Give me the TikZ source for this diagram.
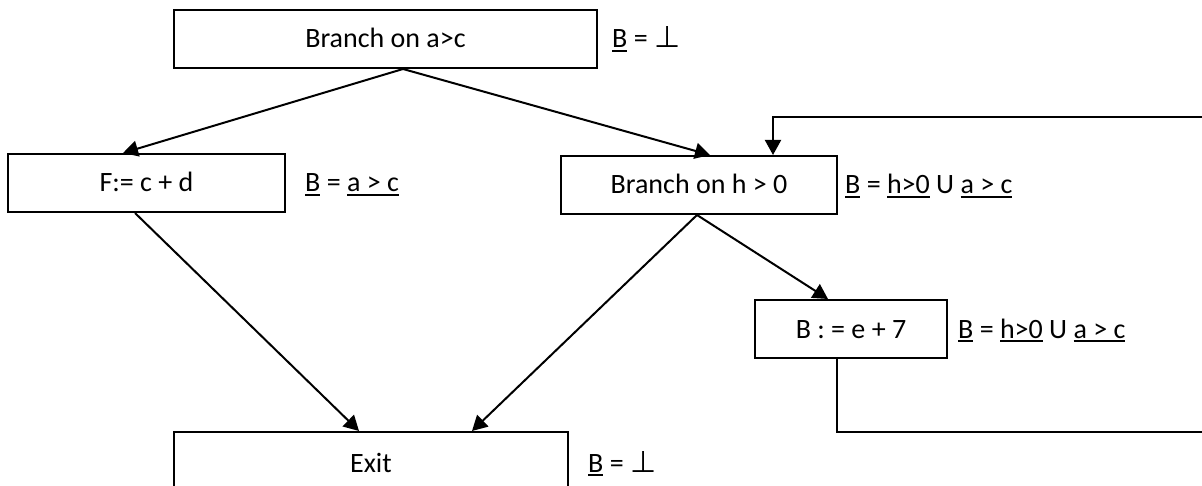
\documentclass[tikz,border=0pt]{standalone}
\usepackage{fontspec}
\setmainfont{Carlito}
\newfontfamily\symf{DejaVu Sans}
\usetikzlibrary{arrows.meta,calc}
\newcommand{\undl}[1]{\setbox0\hbox{#1}\rlap{\rule[-4pt]{\wd0}{2pt}}\box0\relax}
\newcommand{\botx}{{\symf\fontsize{30}{34}\selectfont ⊥}}
\begin{document}
\begin{tikzpicture}[x=1pt,y=-1pt,
  box/.style={draw,line width=2pt,minimum width=#1,minimum height=58pt,inner sep=0pt,
    text height=18pt,text depth=0pt,font=\fontsize{28}{34}\selectfont},
  lbl/.style={anchor=base west,inner sep=0pt,font=\fontsize{28}{34}\selectfont},
  arr/.style={line width=2pt,-{Triangle[length=15pt,width=16pt]}},
  ln/.style={line width=2pt}]
\useasboundingbox (0,0) rectangle (1202,486);
\clip (0,0) rectangle (1202,486);
\fill[white] (0,0) rectangle (1202,486);
\node[box=423pt] (b1) at (385.5,39) {Branch on a>c};
\node[box=277pt] (b2) at (146.5,183) {F:= c + d};
\node[box=276pt] (b3) at (699,185) {Branch on h > 0};
\node[box=192pt] (b4) at (851,329) {B : = e + 7};
\node[box=394pt,minimum height=62pt] (ex) at (371,463) {Exit};
\node[lbl] (l1) at (612,48) {\undl{B} = \botx};
\node[lbl] (l2) at (305,192) {\undl{B} = \undl{a > c}};
\node[lbl] (l3) at (845,194) {\undl{B} = \undl{h>0} U \undl{a > c}};
\node[lbl] (l4) at (958,338) {\undl{B} = \undl{h>0} U \undl{a > c}};
\node[lbl] (l5) at (588,472) {\undl{B} = \botx};
\coordinate (lb) at (1230,432);
\coordinate (lt) at (1230,117);
\draw[arr] ([xshift=17.5pt]b1.south) -- ([xshift=-23.5pt]b2.north);
\draw[arr] ([xshift=17.5pt]b1.south) -- ([xshift=11pt]b3.north);
\draw[arr] ([xshift=-11.5pt]b2.south) -- ([xshift=-12pt]ex.north);
\draw[arr] ([xshift=-2pt]b3.south) -- ([xshift=101pt]ex.north);
\draw[arr] ([xshift=-2pt]b3.south) -- ([xshift=-23pt]b4.north);
\draw[arr] ([xshift=-14pt]b4.south) |- (lb) -- (lt) -| ([xshift=74pt]b3.north);
\end{tikzpicture}
\end{document}
